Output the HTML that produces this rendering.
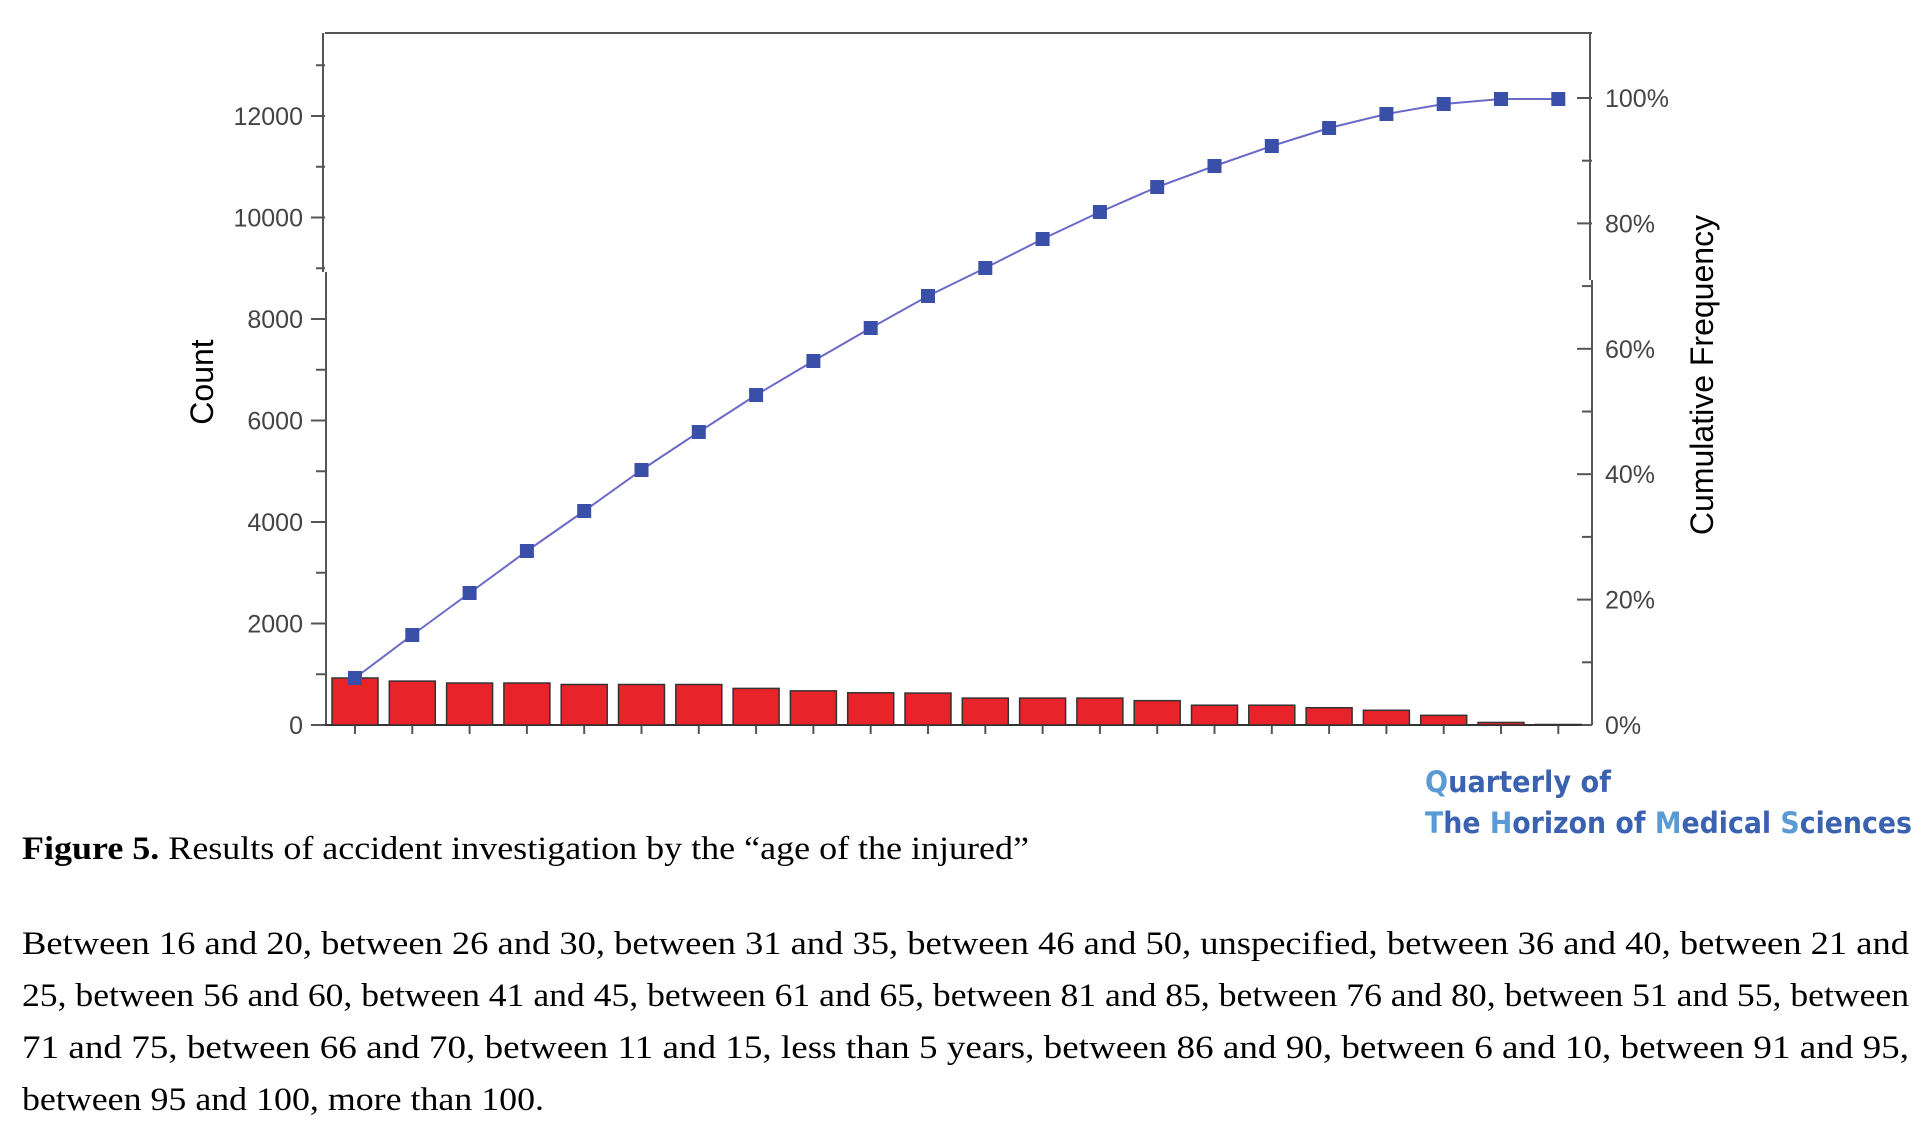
<!DOCTYPE html>
<html><head><meta charset="utf-8"><style>
html,body{margin:0;padding:0;background:#fff;}
svg{display:block;}
</style></head><body>
<svg width="1925" height="1137" viewBox="0 0 1925 1137" xmlns="http://www.w3.org/2000/svg">
<rect width="1925" height="1137" fill="#fff"/>
<!-- frame -->
<line x1="325" y1="33" x2="1592" y2="33" stroke="#555" stroke-width="2"/>
<line x1="323" y1="33" x2="323" y2="272" stroke="#555" stroke-width="2"/>
<line x1="326" y1="272" x2="326" y2="725" stroke="#555" stroke-width="2"/>
<line x1="1590" y1="33" x2="1590" y2="280" stroke="#555" stroke-width="2"/>
<line x1="1592" y1="280" x2="1592" y2="725" stroke="#555" stroke-width="2"/>
<line x1="318" y1="725" x2="1592" y2="725" stroke="#333" stroke-width="2"/>
<g id="lt" stroke="#555" stroke-width="2"></g>
<g id="rt" stroke="#555" stroke-width="2"></g>
<g id="bt" stroke="#555" stroke-width="2"></g>
<g font-family="Liberation Sans, sans-serif" font-size="25" fill="#444" id="ll" text-anchor="end"></g>
<g font-family="Liberation Sans, sans-serif" font-size="25" fill="#444" id="rl"></g>
<g id="bars" fill="#e8232a" stroke="#333" stroke-width="1.5"></g>
<polyline id="cum" fill="none" stroke="#6a6ac8" stroke-width="2"/>
<g id="mk" fill="#3a50a8"></g>
<text transform="translate(213,382) rotate(-90)" text-anchor="middle" font-family="Liberation Sans, sans-serif" font-size="32" fill="#000">Count</text>
<text transform="translate(1713,375) rotate(-90)" text-anchor="middle" font-family="Liberation Sans, sans-serif" font-size="32" fill="#000">Cumulative Frequency</text>
<!-- watermark -->
<text x="1425" y="792" font-family="DejaVu Sans, sans-serif" font-weight="bold" font-size="29" fill="#3a62b0" textLength="186" lengthAdjust="spacingAndGlyphs"><tspan fill="#5b9bd5">Q</tspan>uarterly of</text>
<text x="1425" y="833" font-family="DejaVu Sans, sans-serif" font-weight="bold" font-size="29" fill="#3a62b0" textLength="487" lengthAdjust="spacingAndGlyphs"><tspan fill="#5b9bd5">T</tspan>he <tspan fill="#5b9bd5">H</tspan>orizon of <tspan fill="#5b9bd5">M</tspan>edical <tspan fill="#5b9bd5">S</tspan>ciences</text>
<!-- caption -->
<g font-family="Liberation Serif, serif" font-size="33" fill="#000">
<text x="22" y="859" textLength="1007" lengthAdjust="spacingAndGlyphs"><tspan font-weight="bold">Figure 5.</tspan> Results of accident investigation by the “age of the injured”</text>
<text x="22" y="954" textLength="1887" lengthAdjust="spacingAndGlyphs">Between 16 and 20, between 26 and 30, between 31 and 35, between 46 and 50, unspecified, between 36 and 40, between 21 and</text>
<text x="22" y="1006" textLength="1887" lengthAdjust="spacingAndGlyphs">25, between 56 and 60, between 41 and 45, between 61 and 65, between 81 and 85, between 76 and 80, between 51 and 55, between</text>
<text x="22" y="1058" textLength="1887" lengthAdjust="spacingAndGlyphs">71 and 75, between 66 and 70, between 11 and 15, less than 5 years, between 86 and 90, between 6 and 10, between 91 and 95,</text>
<text x="22" y="1110" textLength="522" lengthAdjust="spacingAndGlyphs">between 95 and 100, more than 100.</text>
</g>
<script>
var NS="http://www.w3.org/2000/svg";
function el(p,t,a,txt){var e=document.createElementNS(NS,t);for(var k in a)e.setAttribute(k,a[k]);if(txt!==undefined)e.textContent=txt;document.getElementById(p).appendChild(e);}
for(var v=0;v<=13;v++){var y=725-v*50.75;var maj=v%2==0;el('lt','line',{x1:maj?311:316,y1:y,x2:325,y2:y});if(maj)el('ll','text',{x:303,y:y+9},String(v*1000));}
for(var p=0;p<=10;p++){var y=725-p*62.7;var maj=p%2==0;el('rt','line',{x1:maj?1577:1582,y1:y,x2:1592,y2:y});if(maj)el('rl','text',{x:1605,y:y+9},(p*10)+'%');}
var h=[926,865,827,827,798,798,798,721,673,635,629,530,530,530,480,390,390,340,290,190,50,10];
var cy=[678,635,593,551,511,470,432,395,361,328,296,268,239,212,187,166,146,128,114,104,99,99];
var pts=[];
for(var i=0;i<22;i++){var cx=355+i*57.3;var bh=h[i]*0.05075;
el('bars','rect',{x:cx-23,y:725-bh,width:46,height:bh});
el('bt','line',{x1:cx,y1:725,x2:cx,y2:734});
pts.push(cx+','+cy[i]);}
document.getElementById('cum').setAttribute('points',pts.join(' '));
for(var i=0;i<22;i++){var cx=355+i*57.3;el('mk','rect',{x:cx-7,y:cy[i]-7,width:14,height:14});}
</script>
</svg>
</body></html>
